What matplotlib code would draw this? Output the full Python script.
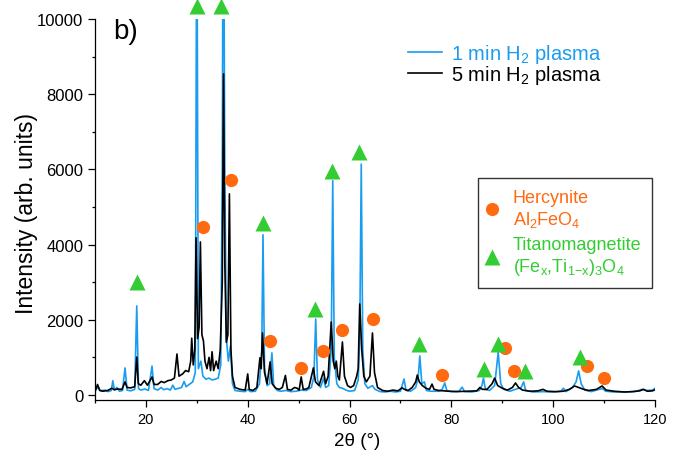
import matplotlib
matplotlib.use("Agg")
import matplotlib.pyplot as plt
from matplotlib.ticker import MultipleLocator
from matplotlib.lines import Line2D

plt.rcParams['font.family'] = ['Liberation Sans', 'DejaVu Sans']
plt.rcParams['mathtext.fontset'] = 'custom'
plt.rcParams['mathtext.rm'] = 'Liberation Sans'
plt.rcParams['mathtext.it'] = 'Liberation Sans:italic'
plt.rcParams['mathtext.bf'] = 'Liberation Sans:bold'

# XRD pattern after 1 min H2 plasma: (2theta, intensity)
tt_1min = [10.0, 10.6, 11.0, 12.0, 12.6, 13.2, 13.5, 13.8, 14.3, 14.8, 15.4, 15.9, 16.3, 17.0, 17.8,
           18.2, 18.55, 19.0, 19.8, 20.5, 21.2, 21.6, 22.3, 23.0, 23.5, 24.2, 24.8, 25.3, 25.7, 26.5,
           27.0, 27.5, 27.9, 28.5, 29.2, 29.7, 30.0, 30.3, 30.8, 31.2, 31.8, 32.4, 33.0, 33.6, 34.2,
           34.7, 35.0, 35.2, 35.5, 35.8, 36.2, 36.6, 37.0, 37.5, 38.5, 39.5, 40.0, 40.5, 41.5, 42.3,
           42.75, 43.0, 43.3, 43.8, 44.3, 44.75, 45.1, 45.8, 46.5, 47.5, 48.5, 49.5, 50.5, 51.5, 52.5,
           53.0, 53.35, 53.7, 54.3, 54.9, 55.3, 55.9, 56.4, 56.7, 57.0, 57.5, 58.0, 58.6, 59.3, 60.0,
           61.0, 61.7, 62.0, 62.3, 62.6, 63.0, 63.6, 64.5, 65.0, 66.0, 67.0, 68.0, 69.0, 70.0, 70.7,
           71.1, 72.0, 73.0, 73.5, 73.8, 74.2, 74.7, 75.1, 76.0, 77.5, 78.2, 78.7, 79.1, 80.0, 81.5,
           82.1, 82.6, 84.0, 85.5, 86.0, 86.3, 86.7, 87.5, 88.5, 89.2, 89.7, 90.3, 91.5, 92.6, 93.7,
           94.2, 94.6, 96.0, 98.0, 100.0, 101.5, 102.0, 102.5, 103.8, 104.5, 105.0, 105.5, 106.2, 107.5,
           109.0, 109.7, 110.3, 112.0, 114.0, 116.0, 117.5, 118.5, 119.5, 120.0]
int_1min = [100, 220, 110, 130, 90, 120, 380, 130, 200, 100, 120, 720, 130, 110, 150,
            2370, 170, 130, 160, 120, 770, 170, 130, 200, 140, 170, 130, 260, 150, 180,
            200, 360, 220, 280, 350, 600, 14000, 700, 900, 500, 420, 450, 400, 420, 450,
            800, 6000, 15000, 6000, 1500, 900, 1300, 300, 120, 100, 90, 150, 90, 100, 300,
            1200, 4260, 700, 250, 300, 1120, 250, 120, 100, 120, 90, 100, 130, 120, 200,
            500, 2020, 400, 200, 450, 200, 250, 1200, 5700, 1000, 300, 200, 180, 130, 100,
            120, 400, 1500, 6140, 1200, 300, 180, 250, 150, 90, 80, 100, 80, 100, 425,
            120, 100, 200, 500, 1040, 300, 350, 120, 100, 100, 150, 320, 120, 90, 100,
            210, 90, 80, 120, 250, 450, 150, 120, 250, 1140, 300, 150, 100, 150, 200,
            350, 120, 80, 90, 80, 100, 180, 90, 200, 350, 640, 300, 130, 90,
            150, 170, 100, 80, 80, 90, 150, 120, 130, 180]

# XRD pattern after 5 min H2 plasma: (2theta, intensity)
tt_5min = [10.0, 10.5, 10.9, 11.5, 12.5, 13.3, 13.8, 14.5, 15.3, 15.9, 16.3, 17.0, 17.8, 18.2, 18.5,
           19.0, 19.7, 20.3, 21.2, 21.6, 22.3, 23.0, 23.6, 24.3, 25.0, 25.6, 26.1, 26.5, 27.2, 27.8,
           28.4, 28.8, 29.0, 29.3, 29.6, 29.85, 30.15, 30.45, 30.7, 31.0, 31.3, 31.6, 32.0, 32.4, 32.7,
           33.0, 33.3, 33.8, 34.2, 34.6, 35.0, 35.25, 35.5, 35.8, 36.1, 36.4, 36.7, 37.0, 37.5, 38.5,
           39.5, 40.0, 40.3, 41.0, 41.8, 42.4, 42.65, 42.9, 43.3, 43.8, 44.4, 44.8, 45.5, 46.2, 46.8,
           47.4, 47.8, 48.5, 49.2, 49.7, 50.1, 50.5, 50.9, 51.5, 52.0, 52.9, 53.3, 54.0, 54.9, 55.3,
           55.8, 56.4, 56.8, 57.1, 57.4, 57.7, 58.0, 58.6, 59.0, 59.6, 60.2, 60.8, 61.4, 61.7, 62.0,
           62.4, 62.8, 63.3, 64.0, 64.5, 64.9, 65.5, 66.5, 67.5, 68.5, 69.5, 70.3, 70.8, 71.5, 72.3,
           73.0, 73.3, 73.7, 74.3, 75.0, 75.7, 76.2, 76.6, 77.5, 78.5, 79.5, 81.0, 83.0, 85.0, 85.6,
           86.1, 87.0, 88.0, 88.5, 89.1, 90.0, 91.0, 92.0, 92.6, 93.2, 94.0, 95.5, 97.0, 98.0, 98.8,
           100.5, 102.0, 103.2, 104.2, 105.0, 106.0, 107.0, 108.5, 109.6, 110.4, 112.0, 114.0, 115.5, 117.0,
           117.7, 118.5, 119.5, 120.0]
int_5min = [100, 280, 130, 100, 120, 180, 140, 160, 150, 350, 200, 190, 220, 1010, 300,
            260, 380, 260, 480, 280, 280, 360, 330, 380, 400, 450, 1090, 500, 560, 650,
            620, 900, 1510, 800, 1200, 4180, 1500, 1800, 4070, 1600, 1440, 900, 700, 1000, 650,
            1150, 650, 900, 700, 1200, 3000, 8540, 3500, 1400, 1600, 5350, 1200, 500, 200, 150,
            130, 560, 150, 120, 200, 990, 700, 1650, 600, 300, 880, 300, 180, 150, 200,
            520, 150, 130, 200, 180, 130, 480, 150, 160, 200, 720, 350, 250, 630, 300,
            500, 1940, 900, 700, 900, 500, 400, 1410, 500, 250, 200, 250, 500, 700, 2420,
            1200, 500, 350, 500, 1650, 600, 200, 120, 100, 130, 110, 190, 150, 120, 200,
            350, 530, 350, 250, 180, 150, 290, 150, 120, 110, 100, 90, 100, 110, 200,
            150, 150, 300, 450, 250, 180, 130, 200, 320, 200, 130, 100, 110, 150, 100,
            90, 100, 150, 240, 200, 150, 120, 150, 240, 130, 100, 80, 90, 110,
            150, 100, 110, 140]

# Phase markers (2theta, intensity position)
herc_tt = [31.2, 36.7, 44.3, 50.4, 54.7, 58.6, 64.7, 78.2, 90.6, 92.4, 106.7, 110.0]
herc_int = [4470, 5720, 1440, 730, 1170, 1730, 2020, 530, 1250, 640, 770, 450]
titano_tt = [18.2, 30.0, 34.8, 43.0, 53.3, 56.6, 61.8, 73.7, 86.5, 89.2, 94.5, 105.3]
titano_int = [3000, 10350, 10350, 4570, 2290, 5960, 6460, 1360, 690, 1360, 640, 1010]

BLUE = '#1a9cf0'
ORANGE = '#ff6a10'
GREEN = '#33cc33'

W, H = 685, 452
fig = plt.figure(figsize=(W / 100, H / 100), dpi=100)
ax = fig.add_axes([95 / W, 1 - 401 / H, 560 / W, 381 / H])

l1, = ax.plot(tt_1min, int_1min, color=BLUE, lw=1.2, zorder=2)
l2, = ax.plot(tt_5min, int_5min, color='black', lw=1.2, zorder=3)

ax.plot(herc_tt, herc_int, 'o', color=ORANGE, ms=9.5, mec='none', clip_on=False, zorder=5)
ax.plot(titano_tt, titano_int, '^', color=GREEN, ms=12, mec='none', clip_on=False, zorder=5)

ax.set_xlim(10, 120)
ax.set_ylim(-133, 10000)
ax.spines['top'].set_visible(False)
ax.spines['right'].set_visible(False)
for s in ('left', 'bottom'):
    ax.spines[s].set_linewidth(0.9)

ax.xaxis.set_major_locator(MultipleLocator(20))
ax.xaxis.set_minor_locator(MultipleLocator(10))
ax.yaxis.set_major_locator(MultipleLocator(2000))
ax.yaxis.set_minor_locator(MultipleLocator(1000))
ax.tick_params(axis='both', which='major', direction='out', length=5, width=0.9)
ax.tick_params(axis='both', which='minor', direction='out', length=2.5, width=0.9)
ax.tick_params(axis='x', labelsize=10.5)
ax.tick_params(axis='y', labelsize=12)

ax.set_xlabel('2θ (°)', fontsize=13.5)
ax.xaxis.set_label_coords((357 - 95) / 560, -0.085)
ax.set_ylabel('Intensity (arb. units)', fontsize=16.5)
ax.yaxis.set_label_coords((38 - 95) / 560, (396 - 208) / 381)

fig.text(113 / W, 1 - 39 / H, 'b)', fontsize=20)

leg1 = ax.legend([l1, l2], ['1 min H$_2$ plasma', '5 min H$_2$ plasma'],
                 loc='upper left', bbox_to_anchor=(408 / W, 1 - 43 / H),
                 bbox_transform=fig.transFigure, frameon=False, fontsize=14.5,
                 handlelength=1.7, handletextpad=0.45, labelspacing=-0.08, borderaxespad=0,
                 borderpad=0)
leg1.get_texts()[0].set_color(BLUE)
leg1.get_texts()[1].set_color('black')
ax.add_artist(leg1)

h_herc = Line2D([], [], ls='none', marker='o', color=ORANGE, ms=9.5, mec='none')
h_tit = Line2D([], [], ls='none', marker='^', color=GREEN, ms=12, mec='none')
leg2 = ax.legend([h_herc, h_tit],
                 ['Hercynite\nAl$_2$FeO$_4$', 'Titanomagnetite\n(Fe$_\\mathrm{x}$,Ti$_{1\\mathrm{-x}}$)$_3$O$_4$'],
                 loc='upper left', bbox_to_anchor=(478 / W, 1 - 179 / H),
                 bbox_transform=fig.transFigure, fancybox=False, fontsize=13,
                 edgecolor='#333333', framealpha=1, handlelength=0.3, handletextpad=1.03,
                 labelspacing=0.4, borderaxespad=0, borderpad=0.6)
leg2.get_frame().set_linewidth(1.0)
leg2.get_texts()[0].set_color(ORANGE)
leg2.get_texts()[1].set_color(GREEN)

fig.savefig('out.png', dpi=100)
